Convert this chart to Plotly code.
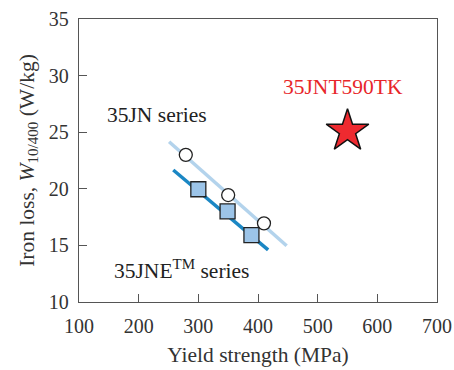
import plotly.graph_objects as go

# Data
jn_x = [279, 350, 410]
jn_y = [23.0, 19.45, 16.95]
jne_x = [300, 349, 389]
jne_y = [19.96, 18.0, 15.9]
jn_line_x = [251, 448]
jn_line_y = [24.16, 14.97]
jne_line_x = [258, 417]
jne_line_y = [21.66, 14.6]
star_x = [550]
star_y = [25.1]

FONT = "Liberation Serif, Times New Roman, serif"

fig = go.Figure()
fig.add_trace(go.Scatter(x=jn_line_x, y=jn_line_y, mode="lines",
                         line=dict(color="#b3d3ec", width=3.5), showlegend=False))
fig.add_trace(go.Scatter(x=jne_line_x, y=jne_line_y, mode="lines",
                         line=dict(color="#1b87c4", width=3.5), showlegend=False))
fig.add_trace(go.Scatter(x=jn_x, y=jn_y, mode="markers",
                         marker=dict(symbol="circle", size=13, color="white",
                                     line=dict(color="#222", width=1.3)), showlegend=False))
fig.add_trace(go.Scatter(x=jne_x, y=jne_y, mode="markers",
                         marker=dict(symbol="square", size=15, color="#9cc4e8",
                                     line=dict(color="#222", width=1.3)), showlegend=False))
fig.add_trace(go.Scatter(x=star_x, y=star_y, mode="markers",
                         marker=dict(symbol="star", size=32, color="#ee2a30",
                                     line=dict(color="#111", width=1.5)), showlegend=False))

fig.add_annotation(x=230.6, y=26.5, text="35JN series", showarrow=False,
                   font=dict(family=FONT, size=21.5, color="#222"))
fig.add_annotation(x=271, y=12.9, text="35JNE<sup>TM</sup> series", showarrow=False,
                   font=dict(family=FONT, size=21.5, color="#222"))
fig.add_annotation(x=542, y=29.0, text="35JNT590TK", showarrow=False,
                   font=dict(family=FONT, size=21.5, color="#e8262a"))

axis_common = dict(showgrid=False, zeroline=False, showline=True, linecolor="#555",
                   linewidth=1.3, mirror=True, ticks="inside", ticklen=8,
                   tickcolor="#555", tickwidth=1.3, automargin=False,
                   tickfont=dict(family=FONT, size=20, color="#333"))

fig.update_xaxes(range=[100, 700], tickvals=[100, 200, 300, 400, 500, 600, 700],
                 title=dict(text="Yield strength (MPa)", font=dict(family=FONT, size=21.5, color="#333"),
                            standoff=10),
                 ticklabelstandoff=6,
                 **axis_common)
fig.update_yaxes(range=[10, 35], tickvals=[10, 15, 20, 25, 30, 35],
                 title=dict(text="Iron loss, <i>W</i><sub>10/400</sub> (W/kg)",
                            font=dict(family=FONT, size=21.5, color="#333"), standoff=8),
                 ticklabelstandoff=5,
                 **axis_common)

fig.update_layout(width=454, height=370, margin=dict(l=79, r=17, t=19, b=68),
                  plot_bgcolor="white", paper_bgcolor="white")

fig.write_html("out.html")
